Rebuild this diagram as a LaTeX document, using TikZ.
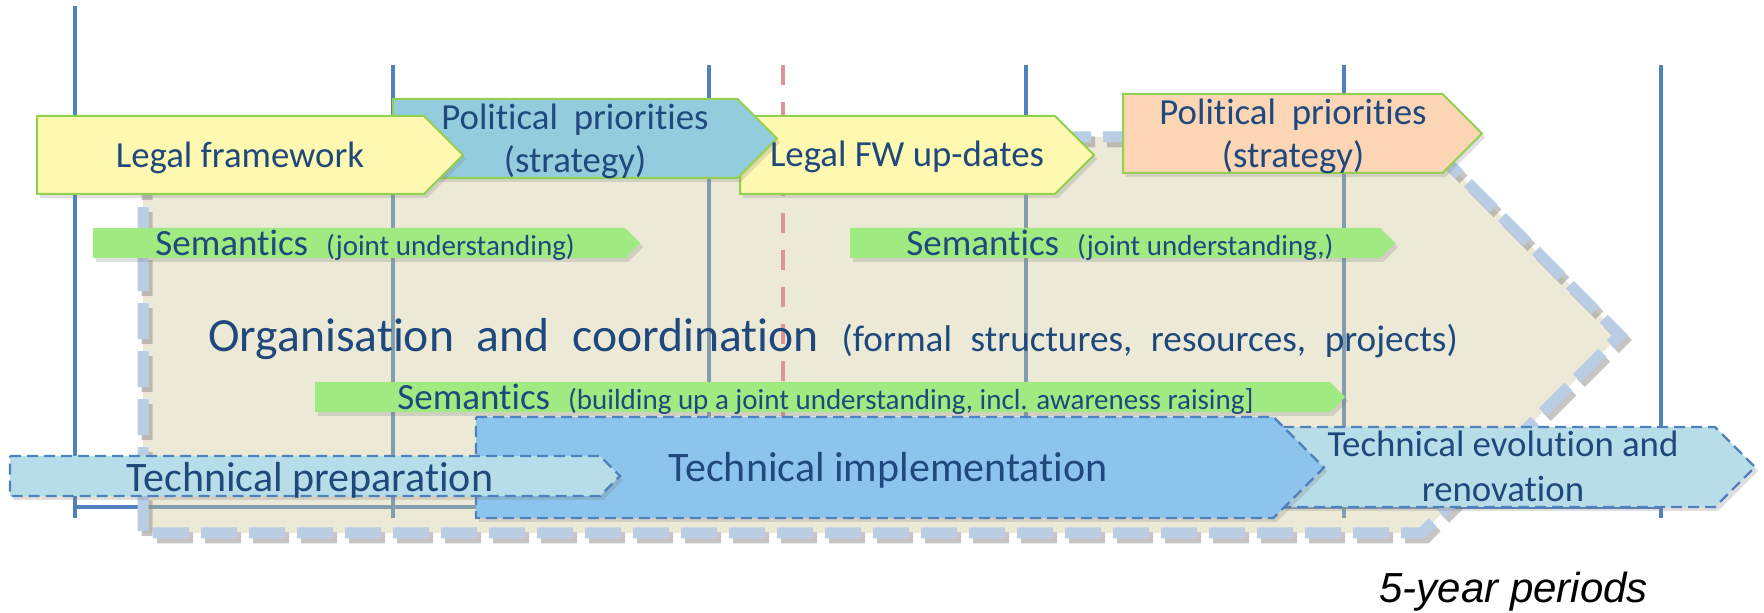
\documentclass[tikz,border=0pt]{standalone}
\usepackage{fontspec}
\setmainfont{Carlito}[Ligatures=NoCommon]
\newfontfamily\periodfont{Liberation Sans}
\usepackage{tikz}
\usetikzlibrary{shadows}
\definecolor{txtblue}{RGB}{31,73,125}
\definecolor{gridblue}{RGB}{79,129,189}
\definecolor{edgegreen}{RGB}{146,208,80}
\definecolor{legalyellow}{RGB}{255,248,176}
\definecolor{polblue}{RGB}{147,205,221}
\definecolor{polorange}{RGB}{252,213,181}
\definecolor{semgreen}{RGB}{160,234,130}
\definecolor{implblue}{RGB}{141,196,238}
\definecolor{prepblue}{RGB}{183,222,232}
\definecolor{orgbeige}{RGB}{207,200,152}
\definecolor{orgedge}{RGB}{185,205,229}
\definecolor{splitred}{RGB}{217,150,148}
\tikzstyle{periodline} = [gridblue, line width=2.2pt]
\tikzstyle{boxshadow} = [drop shadow={shadow xshift=1.5pt, shadow yshift=-2pt, opacity=0.25}]
\tikzstyle{topbox} = [draw=edgegreen, line width=1pt, boxshadow]
\tikzstyle{sembar} = [fill=semgreen, boxshadow]
\tikzstyle{techbox} = [draw=gridblue, line width=1.2pt, dash pattern=on 5.5pt off 3pt, boxshadow]
\tikzstyle{orgedgeline} = [line width=5.5pt, dash pattern=on 18pt off 6pt]
\tikzstyle{lbl} = [txtblue, inner sep=0pt, anchor=base, font=\fontsize{18.4}{22}\selectfont]
\tikzstyle{semlbl} = [lbl, anchor=base west, font=\fontsize{18.5}{22}\selectfont]
\newcommand{\arrowbox}[5]{\path[#1] (#2,#3) -- ({#4-(#5-#3)/2},#3) -- (#4,{(#3+#5)/2}) -- ({#4-(#5-#3)/2},#5) -- (#2,#5) -- cycle;}
\newcommand{\semsmall}{\fontsize{14.5}{17}\selectfont}
\def\orgoutline{(143,137) -- (1422,137) -- (1620,335) -- (1422,533) -- (143,533) -- cycle}
\begin{document}
\begin{tikzpicture}[x=0.5pt, y=-0.5pt]
  \useasboundingbox (0,0) rectangle (1764,613);
  \draw [periodline] (75,6) -- (75,518);
  \foreach \px in {393,709,1026,1344,1661}
    \draw [periodline] (\px,65) -- (\px,518);
  \draw [periodline] (75,507) -- (1661,507);
  \path [fill=orgbeige, fill opacity=0.4] \orgoutline;
  \draw [orgedgeline, black!45, opacity=0.5, shift={(4,5)}] \orgoutline;
  \draw [orgedgeline, orgedge] \orgoutline;
  \draw [splitred, line width=2pt, dash pattern=on 10pt off 8.5pt] (783,65) -- (783,417);
  \arrowbox{sembar}{93}{228}{640}{258}
  \arrowbox{sembar}{850}{228}{1395}{258}
  \arrowbox{sembar}{315}{382}{1345}{412}
  \arrowbox{techbox, fill=prepblue}{1283}{427}{1755}{507}
  \arrowbox{techbox, fill=implblue}{476}{417}{1324}{518}
  \arrowbox{techbox, fill=prepblue}{10}{456}{620}{496}
  \arrowbox{topbox, fill=legalyellow}{740}{116}{1094}{194}
  \arrowbox{topbox, fill=polblue}{393}{99}{777}{178}
  \arrowbox{topbox, fill=legalyellow}{37}{116}{463}{194}
  \arrowbox{topbox, fill=polorange}{1123}{94}{1482}{173}
  \node [lbl] (legal) at (240,168) {Legal framework};
  \node [lbl] (pol1a) at (575,130) {Political\hspace{0.43em}priorities};
  \node [lbl] (pol1b) at (575,173) {(strategy)};
  \node [lbl] (legalfw) at (907,167) {Legal FW up-dates};
  \node [lbl] (pol2a) at (1293,125) {Political\hspace{0.43em}priorities};
  \node [lbl] (pol2b) at (1293,168) {(strategy)};
  \node [semlbl] (sem1) at (155,256) {Semantics\hspace{9pt}{\semsmall(joint understanding)}};
  \node [semlbl] (sem2) at (906,256) {Semantics\hspace{9pt}{\semsmall(joint understanding,)}};
  \node [semlbl] (sem3) at (397,410) {Semantics\hspace{9pt}{\semsmall(building up a joint understanding, incl. awareness raising]}};
  \node [lbl, anchor=base west, font=\fontsize{23.8}{28}\selectfont] (org) at (208,352)
    {Organisation\hspace{0.48em}and\hspace{0.48em}coordination\hspace{0.48em}{\fontsize{18.6}{22}\selectfont(formal\hspace{0.5em}structures,\hspace{0.5em}resources,\hspace{0.5em}projects)}};
  \node [lbl, font=\fontsize{21}{24}\selectfont] (prep) at (310,492) {Technical preparation};
  \node [lbl, font=\fontsize{21}{24}\selectfont] (impl) at (888,482) {Technical implementation};
  \node [lbl] (evoa) at (1503,457) {Technical evolution and};
  \node [lbl] (evob) at (1503,502) {renovation};
  \node [anchor=base west, inner sep=0pt, font=\periodfont\itshape\fontsize{21}{24}\selectfont] (period) at (1379,602) {5-year periods};
\end{tikzpicture}
\end{document}
